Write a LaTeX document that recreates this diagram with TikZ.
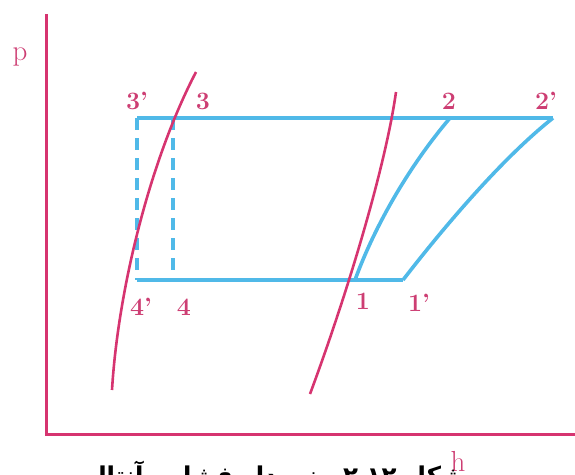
\documentclass[tikz,border=0pt]{standalone}
\usepackage{fontspec}
\newfontfamily\arabicfont[Script=Arabic]{DejaVu Sans}
\TeXXeTstate=1
\definecolor{pinkline}{RGB}{214,52,112}
\definecolor{bluecyc}{RGB}{80,185,232}
\definecolor{lbl}{RGB}{205,62,115}
\begin{document}
\begin{tikzpicture}[x=1pt,y=-1pt,
  axisline/.style={pinkline,line width=3pt},
  satline/.style={pinkline,line width=2.6pt},
  cycline/.style={bluecyc,line width=3.6pt,line join=round},
  dashline/.style={bluecyc,line width=3.6pt,dash pattern=on 12pt off 8pt},
  lab/.style={text=lbl,font=\fontsize{25}{25}\selectfont\bfseries,inner sep=0pt},
  axlab/.style={text=lbl,font=\fontsize{29}{29}\selectfont,inner sep=0pt}]
\useasboundingbox (0,0) rectangle (575,474);
% axes
\coordinate (ytop) at (46,14);
\coordinate (orig) at (46,434);
\coordinate (xend) at (575,434);
\draw[axisline] (ytop) -- (orig) -- (xend);
\node[axlab] (plab) at (20,57) {p};
\node[axlab,anchor=base,text depth=0pt] (hlab) at (458,471) {h};
% cycle corner points
\coordinate (c3p) at (137,118);
\coordinate (c3) at (173,118);
\coordinate (c2) at (450,118);
\coordinate (c2p) at (553,118);
\coordinate (c4p) at (137,280);
\coordinate (c4) at (173,280);
\coordinate (c1) at (355,280);
\coordinate (c1p) at (403,280);
% blue cycle
\draw[cycline] (c3p) -- (c2p);
\draw[cycline] (c4p) -- (c1p);
\draw[dashline] (c3p) -- (c4p);
\draw[dashline] (c3) -- (c4);
\draw[cycline] (c1) .. controls (375,225) and (410,165) .. (c2);
\draw[cycline] (c1p) .. controls (440,232) and (500,160) .. (c2p);
% saturation curves
\draw[satline] (196,72) .. controls (150,160) and (118,290) .. (112,390);
\draw[satline] (396,92) .. controls (385,170) and (345,300) .. (310,394);
% labels
\node[lab] (l3p) at (137,101) {3'};
\node[lab] (l3) at (203,101) {3};
\node[lab] (l2) at (449,101) {2};
\node[lab] (l2p) at (546,101) {2'};
\node[lab] (l4p) at (141,307) {4'};
\node[lab] (l4) at (184,307) {4};
\node[lab] (l1) at (363,301) {1};
\node[lab] (l1p) at (419,303) {1'};
% caption (cut at bottom, as in the reference)
\node[anchor=base,inner sep=0pt,font=\fontsize{24.5}{24.5}\selectfont\arabicfont\bfseries] (cap) at (264,484) {\beginR شکل ۱۲ـ۲ ـ نمودار فشار ـ آنتالپی\endR};
\end{tikzpicture}
\end{document}
